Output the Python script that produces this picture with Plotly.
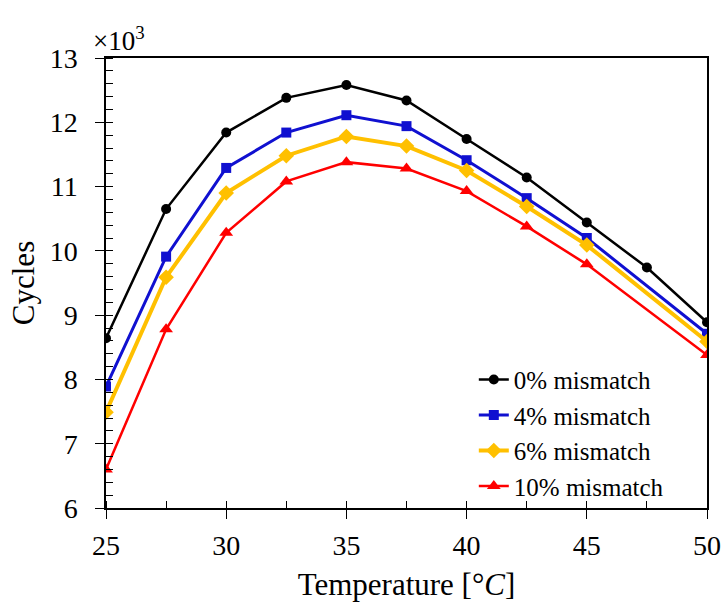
import plotly.graph_objects as go

temps = [25, 27.5, 30, 32.5, 35, 37.5, 40, 42.5, 45, 47.5, 50]
temps_short = [25, 27.5, 30, 32.5, 35, 37.5, 40, 42.5, 45, 50]

cycles_0 = [8.64, 10.65, 11.84, 12.38, 12.58, 12.34, 11.74, 11.14, 10.44, 9.74, 8.89]
cycles_4 = [7.89, 9.91, 11.29, 11.84, 12.11, 11.94, 11.41, 10.82, 10.20, 8.71]
cycles_6 = [7.49, 9.59, 10.90, 11.48, 11.78, 11.63, 11.25, 10.69, 10.09, 8.59]
cycles_10 = [6.60, 8.78, 10.28, 11.08, 11.38, 11.28, 10.93, 10.38, 9.79, 8.38]

names = ["0% mismatch", "4% mismatch", "6% mismatch", "10% mismatch"]
colors = ["#000000", "#1010D0", "#FFC000", "#FF0000"]
symbols = ["circle", "square", "diamond", "triangle-up"]

FONT = "Liberation Serif"

fig = go.Figure()
series = [(temps, cycles_0), (temps_short, cycles_4), (temps_short, cycles_6), (temps_short, cycles_10)]
widths = [2.5, 3, 4, 2.5]
msizes = [10, 10, 12, 12]
for (xs, ys), n, c, s, w, ms in zip(series, names, colors, symbols, widths, msizes):
    fig.add_trace(go.Scatter(
        x=xs, y=ys, mode="lines+markers", name=n,
        line=dict(color=c, width=w),
        marker=dict(symbol=s, size=ms, color=c),
    ))

fig.update_layout(
    width=727, height=603,
    margin=dict(l=106, r=20, t=58, b=95),
    paper_bgcolor="white", plot_bgcolor="white",
    font=dict(family=FONT, size=24, color="black"),
    showlegend=True,
    legend=dict(
        x=0.612, y=0.336, xanchor="left", yanchor="top",
        bgcolor="rgba(0,0,0,0)", font=dict(family=FONT, size=25),
        tracegroupgap=0, itemwidth=30,
    ),
    xaxis=dict(
        range=[25, 50], tickmode="linear", tick0=25, dtick=5,
        ticks="outside", ticklen=9, tickwidth=1, tickcolor="black",
        ticklabelstandoff=3, automargin=False,
        minor=dict(ticks="inside", dtick=2.5, ticklen=7, tickcolor="black"),
        showline=True, linecolor="black", linewidth=1.5, mirror=True,
        showgrid=False, zeroline=False,
        tickfont=dict(family=FONT, size=28),
        title=dict(text="Temperature [°<i>C</i>]", font=dict(family=FONT, size=31), standoff=13),
    ),
    yaxis=dict(
        range=[6, 13], tickmode="linear", tick0=6, dtick=1,
        ticks="outside", ticklen=9, tickwidth=1, tickcolor="black",
        ticklabelstandoff=12, automargin=False,
        minor=dict(ticks="inside", dtick=0.2, ticklen=7, tickcolor="black"),
        showline=True, linecolor="black", linewidth=1.5, mirror=True,
        showgrid=False, zeroline=False,
        tickfont=dict(family=FONT, size=28),
        title=dict(text="Cycles", font=dict(family=FONT, size=31), standoff=6),
    ),
    xaxis2=dict(
        overlaying="x", matches="x", range=[25, 50], tickmode="linear", tick0=25, dtick=5,
        ticks="inside", ticklen=9, tickcolor="black", showticklabels=False,
        showline=False, showgrid=False, zeroline=False, automargin=False,
    ),
    yaxis2=dict(
        overlaying="y", matches="y", range=[6, 13], tickmode="linear", tick0=6, dtick=1,
        ticks="inside", ticklen=9, tickcolor="black", showticklabels=False,
        showline=False, showgrid=False, zeroline=False, automargin=False,
    ),
)

fig.add_annotation(
    text="×10<sup>3</sup>", xref="paper", yref="paper",
    x=-0.025, y=1.0, xanchor="left", yanchor="bottom", showarrow=False,
    font=dict(family=FONT, size=27),
)

fig.write_html("out.html")
